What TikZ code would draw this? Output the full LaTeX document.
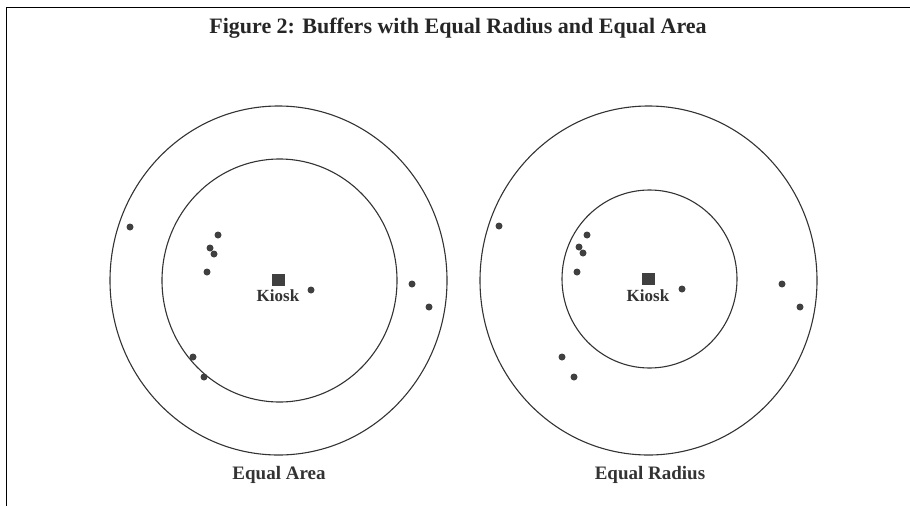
\documentclass[tikz,border=0pt]{standalone}
\usepackage{fontspec}
\setmainfont{Liberation Serif}
\begin{document}
\begin{tikzpicture}[x=1pt,y=-1pt,
  ring/.style={draw=black!80,line width=1.1pt},
  pt/.style={circle,fill=black!75,inner sep=0pt,minimum size=7pt},
  kiosk/.style={rectangle,fill=black!75,inner sep=0pt,minimum size=12.5pt},
  klabel/.style={font=\fontsize{17}{17}\selectfont\bfseries,text=black!80,inner sep=0pt},
  caption/.style={font=\fontsize{19}{19}\selectfont\bfseries,text=black!80,inner sep=0pt},
  frame/.style={draw=black,line width=1pt}]
\useasboundingbox (0,0) rectangle (910,506);
% frame
\coordinate (tl) at (6,7);
\coordinate (tr) at (910,7);
\coordinate (bl) at (6,506);
\draw[frame] (tr) -- (tl) -- (bl);
% title
\node[font=\fontsize{22}{22}\selectfont\bfseries,text=black!85,inner sep=0pt] (title) at (458,28) {Figure 2: Buffers with Equal Radius and Equal Area};
% left buffers
\draw[ring] (278.5,280.5) ellipse [x radius=168.5,y radius=174.5];
\draw[ring] (279.5,280.5) ellipse [x radius=117.5,y radius=121.5];
\node[kiosk] (kL) at (278.5,280) {};
\node[klabel] (kLt) at (278,296) {Kiosk};
\node[pt] (l1) at (130,227) {};
\node[pt] (l2) at (218,235) {};
\node[pt] (l3) at (210,248) {};
\node[pt] (l4) at (214,254) {};
\node[pt] (l5) at (207,272) {};
\node[pt] (l6) at (311,290) {};
\node[pt] (l7) at (412,284) {};
\node[pt] (l8) at (429,307) {};
\node[pt] (l9) at (193,357) {};
\node[pt] (l10) at (204,377) {};
\node[caption] (capL) at (279,475) {Equal Area};
% right buffers
\draw[ring] (648.5,280.5) ellipse [x radius=168.5,y radius=174.5];
\draw[ring] (649.5,279) ellipse [x radius=87.5,y radius=89];
\node[kiosk] (kR) at (648.5,279) {};
\node[klabel] (kRt) at (648,296) {Kiosk};
\node[pt] (r1) at (499,226) {};
\node[pt] (r2) at (587,235) {};
\node[pt] (r3) at (579,247) {};
\node[pt] (r4) at (583,253) {};
\node[pt] (r5) at (577,272) {};
\node[pt] (r6) at (682,289) {};
\node[pt] (r7) at (782,284) {};
\node[pt] (r8) at (800,307) {};
\node[pt] (r9) at (562,357) {};
\node[pt] (r10) at (574,377) {};
\node[caption] (capR) at (650,475) {Equal Radius};
\end{tikzpicture}
\end{document}
